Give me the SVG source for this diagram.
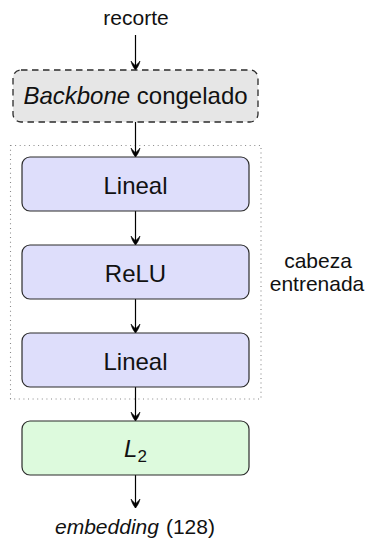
<svg xmlns="http://www.w3.org/2000/svg" width="365" height="541" viewBox="0 0 365 541">
<style>
text{font-family:"Liberation Sans",Arial,sans-serif;fill:#111;text-anchor:middle}
.lbl{font-size:24px}
.sm{font-size:21px}
.blue{fill:#dedefb;stroke:#2b2b2b;stroke-width:1.2}
.green{fill:#ddfadd;stroke:#2b2b2b;stroke-width:1.2}
.gray{fill:#e6e6e6;stroke:#2b2b2b;stroke-width:1.3;stroke-dasharray:6.5 4.5}
.frame{fill:none;stroke:#888;stroke-width:1.1;stroke-dasharray:1 3.6}
.edge{stroke:#000;stroke-width:1.2;fill:none}
</style>
<defs>
<marker id="arr" markerWidth="20" markerHeight="20" refX="0" refY="0" orient="auto" markerUnits="userSpaceOnUse" overflow="visible">
<path d="M-9,-4.5 C-4.5,-3.5 -2,-1.5 0,0 C-2,1.5 -4.5,3.5 -9,4.5 C-6.5,2.5 -5.5,1 -4,0 C-5.5,-1 -6.5,-2.5 -9,-4.5 Z" fill="#000" stroke="#000" stroke-width="0.6" stroke-linejoin="round"/>
</marker>
</defs>
<g id="head-frame">
<rect class="frame" x="10.5" y="145.5" width="250.5" height="253.5"/>
<text class="sm" x="318" y="268">cabeza</text>
<text class="sm" x="317" y="291">entrenada</text>
</g>
<g id="edges">
<line class="edge" x1="135.5" y1="35" x2="135.5" y2="70" marker-end="url(#arr)"/>
<line class="edge" x1="135.5" y1="122" x2="135.5" y2="157" marker-end="url(#arr)"/>
<line class="edge" x1="135.5" y1="211" x2="135.5" y2="245" marker-end="url(#arr)"/>
<line class="edge" x1="135.5" y1="299" x2="135.5" y2="333" marker-end="url(#arr)"/>
<line class="edge" x1="135.5" y1="387" x2="135.5" y2="421" marker-end="url(#arr)"/>
<line class="edge" x1="135.5" y1="475" x2="135.5" y2="508" marker-end="url(#arr)"/>
</g>
<g id="recorte"><text class="sm" x="136" y="25" font-size="21.5">recorte</text></g>
<g id="backbone">
<rect class="gray" x="13" y="70" width="245" height="52" rx="8"/>
<text class="lbl" x="135.5" y="104"><tspan font-style="italic">Backbone</tspan> congelado</text>
</g>
<g id="lineal1">
<rect class="blue" x="22" y="157" width="227" height="54" rx="8"/>
<text class="lbl" x="135.5" y="193.5">Lineal</text>
</g>
<g id="relu">
<rect class="blue" x="22" y="245" width="227" height="54" rx="8"/>
<text class="lbl" x="135.5" y="281.5">ReLU</text>
</g>
<g id="lineal2">
<rect class="blue" x="22" y="333" width="227" height="54" rx="8"/>
<text class="lbl" x="135.5" y="369.5">Lineal</text>
</g>
<g id="l2">
<rect class="green" x="22" y="421" width="227" height="54" rx="8"/>
<text class="lbl" x="135.5" y="457"><tspan font-style="italic">L</tspan><tspan font-size="17" dy="5">2</tspan></text>
</g>
<g id="embedding">
<text class="sm" x="135" y="534" font-size="22.5"><tspan font-style="italic">embedding</tspan><tspan dx="7">(128)</tspan></text>
</g>
</svg>
